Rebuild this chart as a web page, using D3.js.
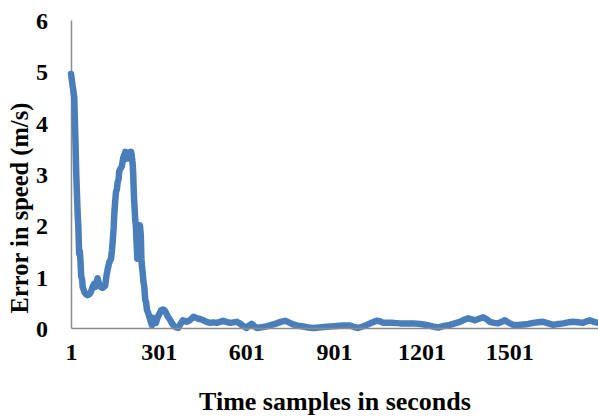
<!DOCTYPE html>
<html>
<head>
<meta charset="utf-8">
<script src="https://cdn.jsdelivr.net/npm/d3@7"></script>
<style>
  html, body { margin: 0; padding: 0; background: #fff; }
  svg { display: block; }
  text { font-family: "Liberation Serif", "Times New Roman", serif; font-weight: bold; fill: #000; }
</style>
</head>
<body>
<svg id="chart" width="598" height="417"></svg>
<script>
// Sample index (time in seconds) and error in speed (m/s)
const sampleIndex = [
  1, 7, 12, 14, 16, 19, 22, 24, 26, 28, 29, 31, 33, 36, 39, 41, 47, 52, 58, 64, 69, 75, 80, 84, 88, 92, 95, 98,
  103, 109, 114, 118, 122, 126, 132, 138, 141, 144, 147, 149, 152, 155, 158, 161, 164, 166, 170, 175, 178, 180,
  184, 187, 191, 194, 197, 199, 203, 207, 210, 212, 214, 215, 217, 219, 221, 223, 226, 228, 231, 234, 237, 240,
  242, 244, 246, 249, 252, 255, 258, 261, 265, 269, 273, 278, 281, 283, 287, 292, 297, 303, 310, 317, 322, 326,
  333, 340, 348, 355, 362, 368, 376, 384, 390, 397, 408, 420, 428, 437, 445, 454, 465, 477, 488, 500, 511, 522,
  533, 545, 557, 568, 576, 585, 594, 602, 611, 620, 628, 637, 648, 659, 670, 682, 694, 705, 719, 733, 742, 750,
  762, 773, 785, 796, 813, 830, 848, 865, 888, 910, 933, 956, 970, 984, 999, 1013, 1030, 1047, 1058, 1070, 1087,
  1104, 1127, 1150, 1173, 1196, 1218, 1238, 1258, 1278, 1298, 1315, 1332, 1347, 1361, 1373, 1384, 1398, 1412,
  1424, 1435, 1449, 1463, 1475, 1486, 1500, 1515, 1532, 1549, 1566, 1583, 1600, 1617, 1635, 1652, 1669, 1686,
  1703, 1720, 1737, 1754, 1766, 1777, 1791, 1805
];
const errorValues = [
  4.95, 4.7, 4.5, 4.1, 3.7, 3.0, 2.5, 2.2, 2.0, 1.6, 1.45, 1.5, 1.35, 1.0, 0.95, 0.8, 0.7, 0.66, 0.64, 0.66, 0.7, 0.8, 0.86, 0.8, 0.85, 0.97, 0.9, 0.85,
  0.8, 0.78, 0.8, 0.82, 1.0, 1.13, 1.28, 1.35, 1.5, 1.7, 1.95, 2.2, 2.45, 2.65, 2.7, 2.85, 2.9, 3.05, 3.1, 3.15, 3.25, 3.32,
  3.38, 3.43, 3.3, 3.35, 3.42, 3.3, 3.35, 3.43, 3.3, 3.2, 3.0, 2.8, 2.5, 2.3, 2.1, 2.0, 1.6, 1.35, 1.9, 1.95, 2.0, 1.8,
  1.35, 1.2, 1.1, 0.9, 0.8, 0.55, 0.5, 0.35, 0.3, 0.22, 0.15, 0.05, 0.2, 0.12, 0.15, 0.1, 0.2, 0.27, 0.35, 0.36, 0.34, 0.3,
  0.22, 0.16, 0.08, 0.03, 0.01, 0.0, 0.08, 0.15, 0.14, 0.12, 0.15, 0.22, 0.2, 0.18, 0.17, 0.15, 0.12, 0.1, 0.11, 0.1, 0.12, 0.14,
  0.12, 0.1, 0.11, 0.12, 0.1, 0.06, 0.03, 0.0, 0.05, 0.08, 0.04, 0.0, 0.01, 0.02, 0.03, 0.05, 0.07, 0.09, 0.12, 0.14, 0.12, 0.1,
  0.07, 0.05, 0.04, 0.03, 0.01, 0.0, 0.01, 0.02, 0.03, 0.04, 0.05, 0.05, 0.02, 0.0, 0.03, 0.06, 0.1, 0.14, 0.13, 0.1, 0.1,
  0.1, 0.09, 0.09, 0.09, 0.08, 0.06, 0.03, 0.01, 0.04, 0.06, 0.09, 0.12, 0.16, 0.19, 0.17, 0.15, 0.18, 0.21,
  0.17, 0.12, 0.1, 0.09, 0.12, 0.15, 0.1, 0.06, 0.06, 0.07, 0.08, 0.1, 0.11, 0.12, 0.09, 0.06, 0.08, 0.09,
  0.11, 0.12, 0.11, 0.1, 0.13, 0.15, 0.12, 0.1
];
const yTicks = [0, 1, 2, 3, 4, 5, 6];
const xTicks = [1, 301, 601, 901, 1201, 1501];
const xTitle = "Time samples in seconds";
const yTitle = "Error in speed (m/s)";

const svg = d3.select("#chart");
const plotLeft = 71, plotRight = 598, plotTop = 20, plotBottom = 328;

const x = d3.scaleLinear().domain([1, 1805]).range([plotLeft, plotRight]);
const y = d3.scaleLinear().domain([0, 6]).range([plotBottom, plotTop]);

const axisColor = "#8c8c8c";

// Y axis
const yAxis = svg.append("g")
  .attr("transform", `translate(${plotLeft},0)`)
  .call(d3.axisLeft(y).tickValues(yTicks).tickSize(0).tickPadding(23).tickFormat(d3.format("d")));
yAxis.select(".domain").attr("stroke", axisColor).attr("stroke-width", 1.5);
yAxis.selectAll("text").style("font-size", "24px").attr("dy", "0.35em");

// Line
const line = d3.line()
  .x((d, i) => x(sampleIndex[i]))
  .y(d => y(d))
  .curve(d3.curveLinear);

svg.append("path")
  .datum(errorValues)
  .attr("fill", "none")
  .attr("stroke", "#4a7ebb")
  .attr("stroke-width", 6.5)
  .attr("stroke-linejoin", "round")
  .attr("stroke-linecap", "round")
  .attr("d", line);

// X axis
const xAxis = svg.append("g")
  .attr("transform", `translate(0,${plotBottom})`)
  .call(d3.axisBottom(x).tickValues(xTicks).tickSize(0).tickPadding(15).tickFormat(d3.format("d")));
xAxis.select(".domain").attr("stroke", axisColor).attr("stroke-width", 1.5);
xAxis.selectAll("text").style("font-size", "24px");

// Titles
svg.append("text")
  .attr("x", 335).attr("y", 410)
  .attr("text-anchor", "middle")
  .style("font-size", "26px")
  .text(xTitle);

svg.append("text")
  .attr("transform", "translate(28,208) rotate(-90)")
  .attr("text-anchor", "middle")
  .style("font-size", "24.5px")
  .text(yTitle);
</script>
</body>
</html>
